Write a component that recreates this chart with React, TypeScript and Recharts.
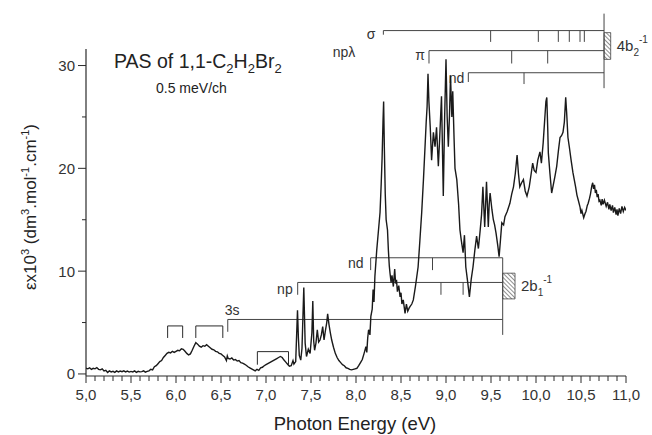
import React from 'react';
import { LineChart, Line, XAxis, YAxis, ReferenceLine, ReferenceArea } from 'recharts';

// photon energy (eV), epsilon x10^3
const baseline: [number, number][] = [
  [5.0, 0.55], [5.02, 0.5], [5.04, 0.6], [5.06, 0.45], [5.08, 0.55], [5.1, 0.5], [5.12, 0.62], [5.14, 0.45],
  [5.16, 0.4], [5.18, 0.5], [5.2, 0.3], [5.22, 0.35], [5.24, 0.15], [5.26, 0.3], [5.28, 0.2], [5.3, 0.25],
  [5.32, 0.15], [5.34, 0.3], [5.36, 0.2], [5.38, 0.28], [5.4, 0.22], [5.42, 0.3], [5.44, 0.2], [5.46, 0.28],
  [5.48, 0.18], [5.5, 0.25], [5.52, 0.2], [5.54, 0.3], [5.56, 0.15], [5.58, 0.25], [5.6, 0.2], [5.62, 0.22],
  [5.64, 0.3], [5.66, 0.18], [5.68, 0.25], [5.7, 0.3], [5.72, 0.45], [5.74, 0.4],
];

const valenceBands: [number, number][] = [
  [5.76, 0.7], [5.78, 0.8], [5.8, 1.0], [5.82, 1.2], [5.84, 1.3], [5.86, 1.6], [5.88, 1.8], [5.9, 2.0],
  [5.92, 2.1], [5.94, 2.05], [5.96, 2.2], [5.98, 2.1], [6.0, 2.2], [6.02, 2.3], [6.04, 2.25], [6.06, 2.45],
  [6.08, 2.4], [6.1, 2.2], [6.12, 2.0], [6.14, 1.85], [6.16, 1.95], [6.18, 2.3], [6.2, 2.7], [6.22, 3.05],
  [6.24, 2.9], [6.26, 2.7], [6.28, 2.6], [6.3, 2.75], [6.32, 2.7], [6.34, 2.85], [6.36, 2.7], [6.38, 2.55],
  [6.4, 2.4], [6.42, 2.35], [6.44, 2.2], [6.46, 2.15], [6.48, 2.0], [6.5, 1.95], [6.52, 1.8], [6.54, 1.65],
  [6.56, 1.3], [6.57, 1.75], [6.58, 1.5], [6.6, 1.45], [6.62, 1.55], [6.64, 1.35], [6.66, 1.4], [6.68, 1.25],
  [6.7, 1.3], [6.72, 1.1], [6.74, 1.05], [6.76, 0.95], [6.78, 0.85], [6.8, 0.7], [6.82, 0.6], [6.84, 0.5],
  [6.86, 0.4], [6.88, 0.3], [6.9, 0.45], [6.92, 0.35], [6.94, 0.6], [6.96, 0.65], [6.98, 0.8], [7.0, 0.9],
  [7.02, 1.0], [7.04, 1.1], [7.06, 1.2], [7.08, 1.3], [7.1, 1.4], [7.12, 1.5], [7.14, 1.6], [7.16, 1.7],
  [7.18, 1.6], [7.2, 1.35], [7.22, 1.15], [7.24, 0.95], [7.26, 0.75], [7.28, 0.8], [7.3, 1.3], [7.31, 0.95],
  [7.33, 1.2],
];

const rydbergLow: [number, number][] = [
  [7.35, 6.2], [7.36, 3.5], [7.37, 1.8], [7.386, 1.35], [7.4, 2.5], [7.42, 8.4], [7.435, 3.0], [7.45, 1.7],
  [7.47, 2.4], [7.49, 2.0], [7.51, 4.0], [7.52, 7.1], [7.53, 3.2], [7.54, 2.3], [7.555, 3.0], [7.57, 4.3],
  [7.585, 3.1], [7.6, 3.3], [7.615, 3.8], [7.63, 4.6], [7.645, 3.3], [7.66, 4.2], [7.675, 5.0], [7.685, 5.85],
  [7.7, 4.8], [7.715, 4.0], [7.73, 3.3], [7.75, 2.6], [7.77, 2.0], [7.79, 1.6], [7.81, 1.3], [7.83, 1.1],
  [7.85, 0.9], [7.87, 0.8], [7.89, 0.6], [7.91, 0.55], [7.93, 0.45], [7.95, 0.4], [7.97, 0.45], [7.99, 0.5],
  [8.01, 0.55], [8.03, 0.8], [8.05, 1.1], [8.07, 1.4], [8.09, 2.0], [8.11, 2.65], [8.12, 2.1], [8.13, 3.5],
  [8.14, 4.3], [8.155, 3.8], [8.165, 5.6], [8.18, 6.3], [8.19, 8.2], [8.2, 7.0], [8.21, 9.5], [8.23, 12.0],
  [8.25, 14.0], [8.267, 15.7], [8.28, 18.5], [8.29, 21.0], [8.3, 24.5], [8.307, 26.5], [8.315, 22.0],
  [8.325, 17.5], [8.335, 15.0], [8.35, 14.0], [8.36, 12.0], [8.37, 10.5], [8.378, 9.8], [8.39, 8.9],
  [8.4, 9.6], [8.415, 8.5], [8.43, 10.2], [8.44, 8.8], [8.45, 9.15], [8.46, 8.0], [8.475, 8.6], [8.49, 7.5],
  [8.5, 7.9], [8.51, 6.8], [8.525, 7.2], [8.545, 5.9], [8.56, 6.8], [8.575, 6.1], [8.59, 6.4], [8.6, 6.55],
  [8.62, 6.8], [8.637, 7.2], [8.66, 8.5], [8.69, 10.4], [8.71, 13.0], [8.73, 15.7], [8.75, 19.0],
];

const rydbergHigh: [number, number][] = [
  [8.767, 22.1], [8.78, 24.5], [8.79, 26.0], [8.8, 29.2], [8.81, 26.5], [8.825, 24.0], [8.84, 20.8],
  [8.86, 23.5], [8.878, 22.1], [8.895, 24.0], [8.915, 20.2], [8.93, 23.0], [8.95, 27.0], [8.97, 17.3],
  [8.985, 25.0], [9.0, 30.6], [9.013, 25.0], [9.026, 22.1], [9.04, 25.5], [9.05, 29.0], [9.065, 25.0],
  [9.075, 27.5], [9.09, 22.8], [9.1, 20.0], [9.12, 18.9], [9.14, 16.5], [9.155, 14.0], [9.17, 13.0],
  [9.19, 11.8], [9.205, 13.5], [9.22, 10.4], [9.24, 9.0], [9.26, 7.5], [9.28, 9.2], [9.3, 10.4], [9.32, 12.0],
  [9.34, 13.4], [9.36, 12.2], [9.38, 14.0], [9.395, 15.5], [9.41, 18.2], [9.43, 14.3], [9.45, 18.7],
  [9.47, 14.3], [9.48, 16.5], [9.49, 17.6], [9.51, 16.0], [9.526, 15.0], [9.54, 14.5], [9.556, 13.7],
  [9.575, 12.5], [9.59, 11.4], [9.605, 13.0], [9.62, 14.7], [9.64, 14.5], [9.655, 15.3], [9.68, 15.8],
];

const continuum: [number, number][] = [
  [9.71, 16.6], [9.73, 17.5], [9.75, 18.2], [9.77, 19.5], [9.79, 21.3], [9.805, 19.5], [9.82, 18.2],
  [9.84, 18.6], [9.86, 18.9], [9.88, 17.8], [9.9, 17.3], [9.925, 18.2], [9.945, 19.4], [9.963, 20.5],
  [9.98, 19.8], [10.0, 19.6], [10.02, 20.8], [10.044, 21.6], [10.06, 20.5], [10.08, 22.5], [10.095, 24.5],
  [10.11, 26.5], [10.12, 26.9], [10.13, 24.0], [10.137, 21.5], [10.155, 19.5], [10.174, 17.6], [10.19, 18.3],
  [10.21, 19.2], [10.23, 20.2], [10.25, 21.8], [10.267, 23.0], [10.285, 23.2], [10.3, 23.5], [10.315, 24.5],
  [10.33, 26.9], [10.34, 25.5], [10.355, 23.0], [10.37, 22.1], [10.39, 20.8], [10.41, 19.6], [10.425, 18.9],
  [10.44, 18.2], [10.455, 17.4], [10.47, 16.9], [10.49, 16.2], [10.5, 15.6], [10.51, 15.9], [10.53, 15.2],
  [10.545, 15.6], [10.555, 15.8], [10.57, 16.4], [10.58, 16.6], [10.595, 17.1], [10.605, 17.5], [10.62, 18.3],
  [10.63, 18.6], [10.64, 18.0], [10.65, 18.4], [10.66, 17.6], [10.67, 17.9], [10.68, 17.2], [10.69, 17.5],
  [10.7, 16.8], [10.71, 16.9], [10.725, 16.4], [10.735, 17.0], [10.745, 16.5], [10.76, 16.9], [10.78, 16.3],
  [10.795, 16.7], [10.81, 16.0], [10.82, 16.5], [10.835, 15.9], [10.85, 16.4], [10.86, 15.7], [10.875, 16.2],
  [10.89, 15.5], [10.9, 16.0], [10.91, 15.4], [10.925, 16.1], [10.94, 15.6], [10.955, 16.3], [10.97, 15.8],
  [10.985, 16.2], [11.0, 15.9],
];

const xTicks = [
  5.0, 5.1, 5.2, 5.3, 5.4, 5.5, 5.6, 5.7, 5.8, 5.9, 6.0, 6.1, 6.2, 6.3, 6.4, 6.5, 6.6, 6.7, 6.8, 6.9,
  7.0, 7.1, 7.2, 7.3, 7.4, 7.5, 7.6, 7.7, 7.8, 7.9, 8.0, 8.1, 8.2, 8.3, 8.4, 8.5, 8.6, 8.7, 8.8, 8.9,
  9.0, 9.1, 9.2, 9.3, 9.4, 9.5, 9.6, 9.7, 9.8, 9.9, 10.0, 10.1, 10.2, 10.3, 10.4, 10.5, 10.6, 10.7, 10.8, 10.9, 11.0,
];
const yTicks = [0, 5, 10, 15, 20, 25, 30];
const yLabelled = [0, 10, 20, 30];

// Rydberg series assignments
const seriesNames = ['3s', 'np', 'nd', 'σ', 'π', 'nd'];
const seriesStart = [6.575, 7.352, 8.163, 8.304, 8.811, 9.248];
const seriesLimit = [9.63, 9.63, 9.63, 10.756, 10.756, 10.756];
const seriesLevel = [5.3, 8.9, 11.3, 33.4, 31.45, 29.3];
const seriesLeg = [4.1, 7.7, 10.1, 33.0, 30.2, 28.4];
const seriesTicks = [[], [8.944, 9.19], [8.85], [9.496, 10.026, 10.248, 10.37, 10.489, 10.537], [9.73, 10.13], [9.867]];
const labelOffset: [number, number, string][] = [[-3, -4, 'start'], [-5, 12, 'end'], [-7, 10, 'end'], [-8, 8, 'end'], [-4, 9, 'end'], [-4, 10, 'end']];

// vibrational brackets on the valence bands: [from, to, top, bottom]
const brackets = [
  [5.907, 6.074, 4.67, 3.5],
  [6.22, 6.52, 4.67, 3.5],
  [6.904, 7.25, 2.17, 0.9],
];

// ionisation limits: [energy, low, high, box top, box bottom, box end, state, sub]
const limits: [number, number, number, number, number, number, string, string][] = [
  [9.63, 3.8, 11.3, 9.8, 7.3, 9.767, '2b', '1'],
  [10.756, 27.8, 35.05, 33.2, 30.6, 10.83, '4b', '2'],
];

const data = [...baseline, ...valenceBands, ...rydbergLow, ...rydbergHigh, ...continuum].map(([e, v]) => ({ e, v }));

const ink = '#2a2a2a';
const font = '"Liberation Sans", Arial, sans-serif';

const XTick = (props: any) => {
  const { x, y, payload } = props;
  const v = payload.value;
  const major = Math.abs(v * 2 - Math.round(v * 2)) < 1e-6;
  return (
    <g>
      <line x1={x} x2={x} y1={y} y2={y + (major ? 7 : 5)} stroke={ink} strokeWidth={1} />
      {major && (
        <text x={x} y={y + 24} textAnchor="middle" fontSize={15} fill="#333" fontFamily={font}>
          {v.toFixed(1).replace('.', ',')}
        </text>
      )}
    </g>
  );
};

const YTick = (props: any) => {
  const { x, y, payload } = props;
  const major = yLabelled.includes(payload.value);
  return (
    <g>
      <line x1={major ? x - 8 : x - 4} x2={x} y1={y} y2={y} stroke={ink} strokeWidth={1} />
      {major && (
        <text x={x - 11} y={y + 5.5} textAnchor="end" fontSize={15} fill="#333" fontFamily={font}>
          {payload.value}
        </text>
      )}
    </g>
  );
};

const SeriesLabel = (props: any) => {
  const { viewBox, text, dx, dy, anchor, extra } = props;
  if (!viewBox) return null;
  return (
    <g fontFamily={font} fontSize={14} fill="#333">
      <text x={viewBox.x + dx} y={viewBox.y + dy} textAnchor={anchor}>{text}</text>
      {extra && <text x={viewBox.x - 28} y={viewBox.y + 26} textAnchor="end">{extra}</text>}
    </g>
  );
};

const LimitLabel = (props: any) => {
  const { viewBox, state, sub } = props;
  if (!viewBox) return null;
  const x = viewBox.x + viewBox.width + 6;
  const y = viewBox.y + viewBox.height / 2 + 5;
  return (
    <text x={x} y={y} fontFamily={font} fontSize={15} fill="#333">
      {state}
      <tspan dy={5} fontSize={10}>{sub}</tspan>
      <tspan dy={-13} fontSize={10}>-1</tspan>
    </text>
  );
};

export default function App() {
  return (
    <div style={{ position: 'absolute', left: 0, top: 0, width: 652, height: 435, background: '#fff' }}>
      <LineChart width={652} height={435} data={data} margin={{ top: 9, right: 26, bottom: 29, left: 26 }}>
        <defs>
          <pattern id="hatch" width="3" height="3" patternUnits="userSpaceOnUse" patternTransform="rotate(-45)">
            <line x1="0" y1="0" x2="0" y2="3" stroke="#222" strokeWidth="1" />
          </pattern>
        </defs>
        <XAxis
          type="number"
          dataKey="e"
          domain={[5, 11]}
          ticks={xTicks}
          interval={0}
          allowDataOverflow
          height={30}
          tickSize={0}
          tickMargin={0}
          tickLine={false}
          axisLine={{ stroke: ink, strokeWidth: 1.2 }}
          tick={<XTick />}
        />
        <YAxis
          type="number"
          domain={[-0.2, 35.5]}
          ticks={yTicks}
          interval={0}
          allowDataOverflow
          width={60}
          tickSize={0}
          tickMargin={0}
          tickLine={false}
          axisLine={false}
          tick={<YTick />}
        />
        <ReferenceLine
          segment={[{ x: 5, y: -0.2 }, { x: 5, y: 31.6 }]}
          stroke={ink}
          strokeWidth={1.2}
          ifOverflow="visible"
        />
        {brackets.flatMap(([a, b, top, bottom], i) => [
          <ReferenceLine key={`bt${i}`} segment={[{ x: a, y: top }, { x: b, y: top }]} stroke={ink} strokeWidth={1} />,
          <ReferenceLine key={`bl${i}`} segment={[{ x: a, y: top }, { x: a, y: bottom }]} stroke={ink} strokeWidth={1} />,
          <ReferenceLine key={`br${i}`} segment={[{ x: b, y: top }, { x: b, y: bottom }]} stroke={ink} strokeWidth={1} />,
        ])}
        {seriesNames.flatMap((name, i) => {
          const [dx, dy, anchor] = labelOffset[i];
          const tickDrop = seriesLevel[i] - seriesLeg[i];
          return [
            <ReferenceLine
              key={`sl${i}`}
              segment={[{ x: seriesStart[i], y: seriesLevel[i] }, { x: seriesLimit[i], y: seriesLevel[i] }]}
              stroke="#444"
              strokeWidth={1}
            />,
            <ReferenceLine
              key={`sg${i}`}
              segment={[{ x: seriesStart[i], y: seriesLevel[i] }, { x: seriesStart[i], y: seriesLeg[i] }]}
              stroke="#444"
              strokeWidth={1}
              label={<SeriesLabel text={name} dx={dx} dy={dy} anchor={anchor} extra={name === 'σ' ? 'npλ' : undefined} />}
            />,
            ...seriesTicks[i].map((t, j) => (
              <ReferenceLine
                key={`st${i}-${j}`}
                segment={[{ x: t, y: seriesLevel[i] }, { x: t, y: seriesLevel[i] - Math.max(tickDrop, 1.1) }]}
                stroke="#444"
                strokeWidth={1}
              />
            )),
          ];
        })}
        {limits.flatMap(([e, low, high, boxTop, boxBottom, boxEnd, state, sub], i) => [
          <ReferenceLine key={`lim${i}`} segment={[{ x: e, y: low }, { x: e, y: high }]} stroke="#444" strokeWidth={1} />,
          <ReferenceArea
            key={`box${i}`}
            x1={e}
            x2={boxEnd}
            y1={boxBottom}
            y2={boxTop}
            fill="url(#hatch)"
            fillOpacity={1}
            stroke="#444"
            strokeWidth={0.8}
            label={<LimitLabel state={state} sub={sub} />}
          />,
        ])}
        <Line
          type="linear"
          dataKey="v"
          stroke="#1a1a1a"
          strokeWidth={1.4}
          dot={false}
          isAnimationActive={false}
        />
      </LineChart>
      <svg width={652} height={435} style={{ position: 'absolute', left: 0, top: 0, pointerEvents: 'none' }}>
        <g fontFamily={font} fill="#222">
          <text x={114} y={68} fontSize={19.5}>
            PAS of 1,1-C<tspan dy={5} fontSize={13}>2</tspan>
            <tspan dy={-5}>H</tspan><tspan dy={5} fontSize={13}>2</tspan>
            <tspan dy={-5}>Br</tspan><tspan dy={5} fontSize={13}>2</tspan>
          </text>
          <text x={156} y={92.5} fontSize={14}>0.5 meV/ch</text>
          <text x={355} y={430} fontSize={18.5} textAnchor="middle">Photon Energy (eV)</text>
          <text transform="translate(36 207) rotate(-90)" fontSize={17} textAnchor="middle">
            εx10<tspan dy={-7} fontSize={11}>3</tspan>
            <tspan dy={7}> (dm</tspan><tspan dy={-7} fontSize={11}>3</tspan>
            <tspan dy={7}>.mol</tspan><tspan dy={-7} fontSize={11}>-1</tspan>
            <tspan dy={7}>.cm</tspan><tspan dy={-7} fontSize={11}>-1</tspan>
            <tspan dy={7}>)</tspan>
          </text>
        </g>
      </svg>
    </div>
  );
}
